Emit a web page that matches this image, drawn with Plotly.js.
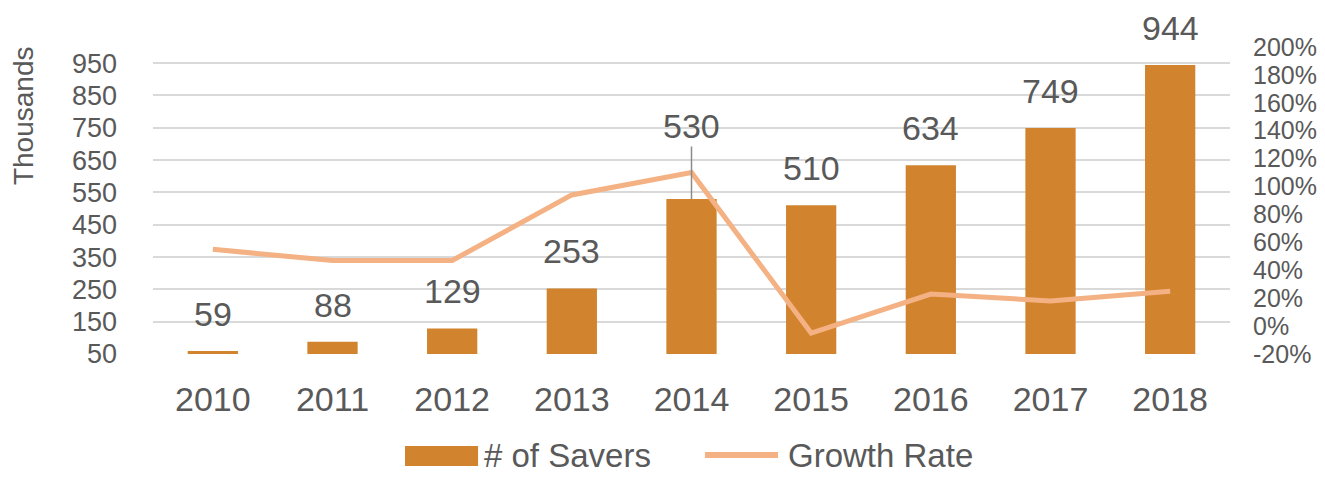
<!DOCTYPE html>
<html>
<head>
<meta charset="utf-8">
<script src="https://cdn.plot.ly/plotly-3.0.1.min.js"></script>
<style>
  body { margin: 0; background: #fff; }
  #chart { width: 1325px; height: 477px; }
</style>
</head>
<body>
<div id="chart"></div>
<script>
var years = ['2010', '2011', '2012', '2013', '2014', '2015', '2016', '2017', '2018'];
var savers = [59, 88, 129, 253, 530, 510, 634, 749, 944];
var growthRate = [55, 47, 47, 94, 110, -5, 23, 18, 25];
var leftTicks = [50, 150, 250, 350, 450, 550, 650, 750, 850, 950];
var rightTicks = [-20, 0, 20, 40, 60, 80, 100, 120, 140, 160, 180, 200];
var seriesNames = ['# of Savers', 'Growth Rate'];

var textColor = '#595959';
var barColor = '#D1832E';
var lineColor = '#F4B183';
var fontFamily = '"Liberation Sans", Arial, sans-serif';

function drawSaversChart() {
  var barTrace = {
    x: years,
    y: savers,
    type: 'bar',
    name: seriesNames[0],
    marker: { color: barColor },
    hoverinfo: 'skip'
  };

  var lineTrace = {
    x: years,
    y: growthRate,
    type: 'scatter',
    mode: 'lines',
    name: seriesNames[1],
    yaxis: 'y2',
    line: { color: lineColor, width: 5 },
    hoverinfo: 'skip'
  };

  // Excel shows a plain hyphen, not the unicode minus plotly uses
  var rightTickText = rightTicks.map(function (v) { return String(v) + '%'; });

  // data labels sit above the bars; 2014 gets a leader line like in Excel
  // (category axis: annotation x is the category index)
  var annotations = [];
  for (var i = 0; i < years.length; i++) {
    if (years[i] === '2014') {
      annotations.push({
        x: i, y: savers[i], xref: 'x', yref: 'y',
        text: String(savers[i]),
        showarrow: true, arrowhead: 0, arrowwidth: 1.5, arrowcolor: '#8c8c8c',
        ax: 0, ay: -73,
        font: { size: 34, color: textColor, family: fontFamily }
      });
    } else {
      annotations.push({
        x: i, y: savers[i], xref: 'x', yref: 'y',
        text: String(savers[i]),
        showarrow: false, yanchor: 'middle', yshift: 37,
        font: { size: 34, color: textColor, family: fontFamily }
      });
    }
  }

  // axis title sits high, like Excel's
  annotations.push({
    xref: 'paper', yref: 'paper', x: -0.1207, y: 0.775,
    xanchor: 'center', yanchor: 'middle', showarrow: false,
    textangle: -90,
    text: 'Thousands',
    font: { size: 28, color: textColor, family: fontFamily }
  });

  // legend drawn by hand so the keys keep Excel's size
  annotations.push({
    xref: 'paper', yref: 'paper', x: 0.3055, y: -0.3974,
    xanchor: 'left', yanchor: 'bottom', showarrow: false,
    text: seriesNames[0],
    font: { size: 33, color: textColor, family: fontFamily }
  });
  annotations.push({
    xref: 'paper', yref: 'paper', x: 0.5877, y: -0.3974,
    xanchor: 'left', yanchor: 'bottom', showarrow: false,
    text: seriesNames[1],
    font: { size: 33, color: textColor, family: fontFamily }
  });

  var shapes = [
    {
      type: 'rect', xref: 'paper', yref: 'paper',
      x0: 0.2340, x1: 0.3018, y0: -0.3648, y1: -0.2997,
      fillcolor: barColor, line: { width: 0 }
    },
    {
      type: 'line', xref: 'paper', yref: 'paper',
      x0: 0.5125, x1: 0.5803, y0: -0.329, y1: -0.329,
      line: { color: lineColor, width: 6 }
    }
  ];

  var layout = {
    width: 1325,
    height: 477,
    margin: { l: 153, r: 95, t: 47, b: 123 },
    paper_bgcolor: '#ffffff',
    plot_bgcolor: '#ffffff',
    showlegend: false,
    bargap: 0.58,
    font: { family: fontFamily, color: textColor },
    xaxis: {
      type: 'category',
      range: [-0.5, years.length - 0.5],
      showgrid: false,
      zeroline: false,
      showline: false,
      ticks: '',
      ticklabelstandoff: 22,
      tickfont: { size: 34, color: textColor, family: fontFamily }
    },
    yaxis: {
      range: [50, 1000],
      tickvals: leftTicks,
      showgrid: true,
      gridcolor: '#D9D9D9',
      gridwidth: 2,
      zeroline: false,
      showline: false,
      ticks: '',
      ticklabelstandoff: 35,
      tickfont: { size: 27, color: textColor, family: fontFamily }
    },
    yaxis2: {
      overlaying: 'y',
      side: 'right',
      range: [-20, 200],
      tickvals: rightTicks,
      ticktext: rightTickText,
      showgrid: false,
      zeroline: false,
      showline: false,
      ticks: '',
      ticklabelstandoff: 22,
      tickfont: { size: 25, color: textColor, family: fontFamily }
    },
    annotations: annotations,
    shapes: shapes
  };

  Plotly.newPlot('chart', [barTrace, lineTrace], layout, { staticPlot: true });
}

document.addEventListener('DOMContentLoaded', function () {
  drawSaversChart();
});
</script>
</body>
</html>
